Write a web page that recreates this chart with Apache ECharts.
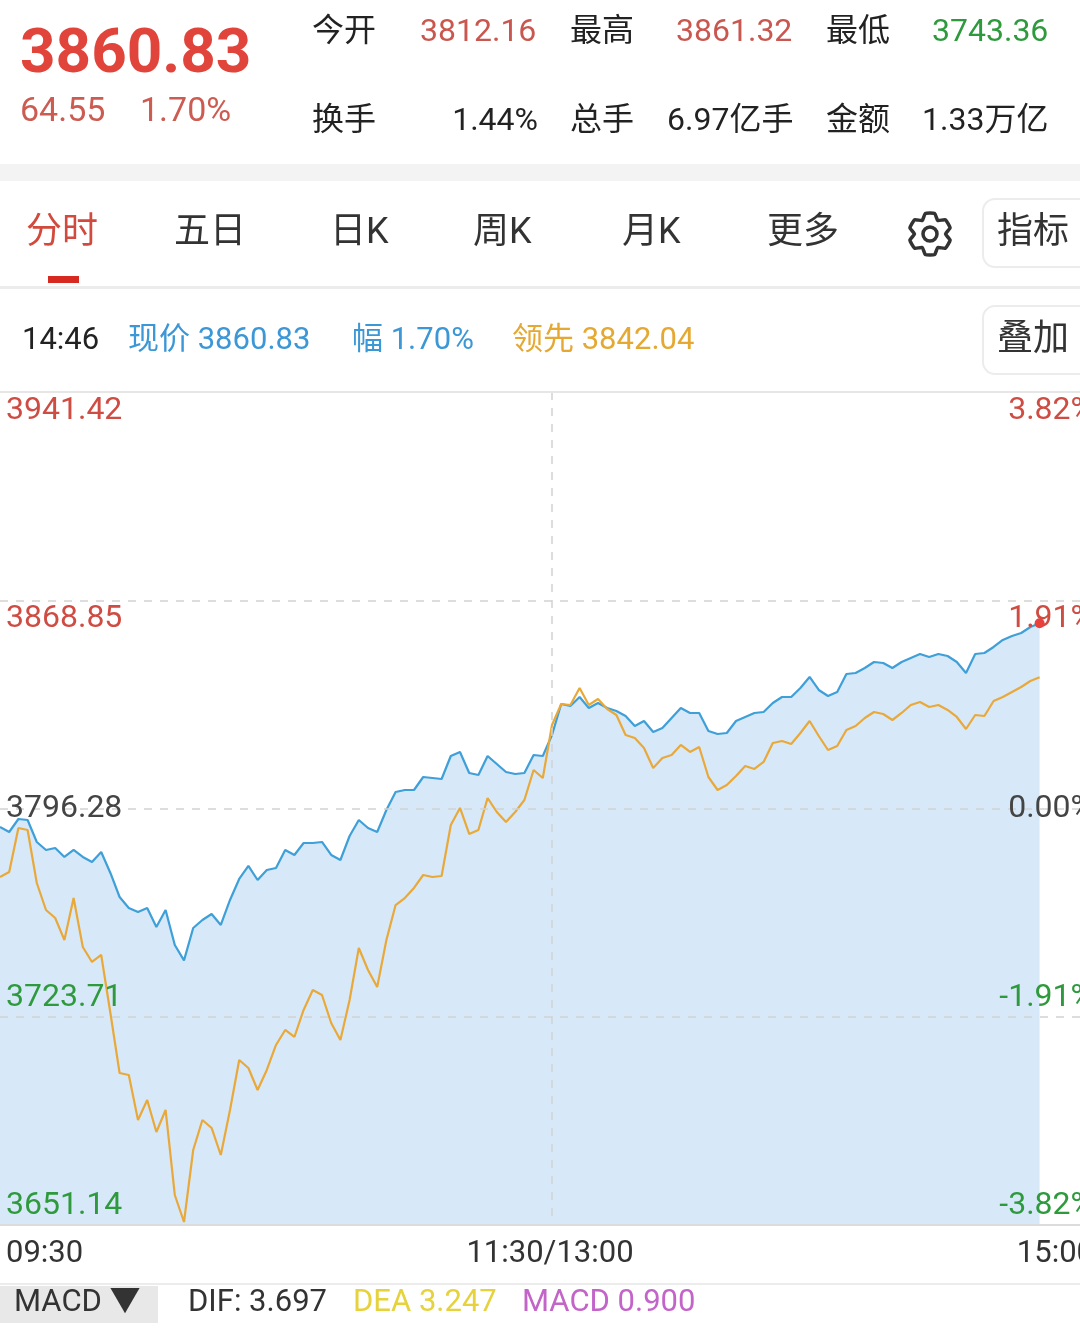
<!DOCTYPE html>
<html>
<head>
<meta charset="utf-8">
<script src="https://cdn.jsdelivr.net/npm/echarts@6/dist/echarts.min.js"></script>
<style>
  html, body { margin: 0; padding: 0; background: #fff; }
  #chart { width: 1080px; height: 1329px; }
</style>
</head>
<body>
<div id="chart"></div>
<script>
// 昨收 and the step between price grid lines
const prevClose = 3796.28
const gridStep = 72.57
const stepMinutes = 2

const timeLabels = ['09:30', '11:30/13:00', '15:00']

// 现价 (blue), one point every 2 minutes from 09:30
const price = [
  3789.84, 3788.09, 3792.62, 3792.28, 3784.61, 3781.82, 3782.52, 3779.38, 3781.82, 3779.38,
  3777.64, 3781.12, 3773.81, 3765.44, 3761.61, 3760.22, 3761.61, 3754.99, 3760.91, 3748.72,
  3743.36, 3754.64, 3757.43, 3759.52, 3755.69, 3764.40, 3771.72, 3776.25, 3771.37, 3774.85,
  3775.55, 3781.82, 3780.08, 3784.26, 3784.26, 3784.61, 3780.08, 3778.34, 3786.70, 3792.28,
  3789.49, 3788.09, 3795.76, 3802.03, 3802.73, 3802.73, 3807.26, 3806.91, 3806.56, 3814.58,
  3815.97, 3808.65, 3807.96, 3814.58, 3811.79, 3809.00, 3808.30, 3808.65, 3814.93, 3814.58,
  3821.89, 3832.70, 3832.00, 3835.14, 3831.30, 3833.05, 3831.30, 3830.26, 3828.52, 3825.03,
  3826.77, 3822.94, 3824.33, 3827.82, 3831.30, 3829.56, 3829.56, 3823.29, 3822.24, 3822.59,
  3826.77, 3828.17, 3829.56, 3829.91, 3833.05, 3835.14, 3835.14, 3838.27, 3842.11, 3837.58,
  3835.49, 3836.88, 3843.15, 3843.50, 3845.24, 3847.33, 3846.98, 3845.24, 3847.33, 3848.73,
  3850.12, 3849.08, 3850.12, 3849.42, 3847.33, 3843.50, 3850.12, 3850.47, 3852.56, 3855.00,
  3856.39, 3857.44, 3859.53, 3860.83,
]

// 领先 (orange)
const leading = [
  3772.41, 3774.15, 3789.49, 3788.79, 3770.32, 3760.91, 3758.12, 3750.46, 3765.09, 3748.02,
  3742.79, 3745.23, 3725.02, 3704.11, 3703.42, 3687.73, 3694.70, 3683.55, 3691.22, 3661.60,
  3652.19, 3677.28, 3687.73, 3684.95, 3675.54, 3691.22, 3708.64, 3705.85, 3698.19, 3705.16,
  3713.87, 3719.10, 3716.66, 3726.07, 3733.03, 3731.29, 3721.54, 3715.61, 3729.55, 3747.67,
  3740.00, 3734.08, 3750.46, 3762.65, 3765.09, 3768.58, 3773.11, 3772.41, 3772.76, 3790.53,
  3796.46, 3787.40, 3788.79, 3799.94, 3795.06, 3791.58, 3795.06, 3799.24, 3809.70, 3806.91,
  3825.38, 3832.70, 3832.35, 3838.27, 3832.35, 3834.44, 3830.96, 3828.86, 3821.89, 3820.85,
  3817.36, 3810.40, 3813.88, 3814.93, 3818.41, 3815.97, 3817.71, 3807.26, 3802.73, 3804.47,
  3807.61, 3811.09, 3810.05, 3812.49, 3819.11, 3819.80, 3818.76, 3822.59, 3826.77, 3821.55,
  3816.67, 3818.06, 3823.64, 3825.03, 3827.82, 3829.91, 3829.21, 3827.12, 3829.56, 3832.35,
  3833.39, 3831.65, 3832.35, 3830.61, 3828.17, 3823.99, 3828.86, 3828.52, 3833.74, 3835.14,
  3836.88, 3838.62, 3840.71, 3842.04,
]

const FONT = 'Roboto, "Noto Sans CJK SC", sans-serif'
const RED = '#cf4c43'
const GREEN = '#2e9a3d'

// y axis runs in grid steps around 昨收
function toSteps(v) {
  return (v - prevClose) / gridStep
}

function toSeries(arr) {
  return arr.map((v, i) => [i * stepMinutes, toSteps(v)])
}

function stepColor(v) {
  if (v > 0.001) return RED
  if (v < -0.001) return GREEN
  return '#444'
}

function stepText(v, text) {
  if (v > 0.001) return '\n' + text
  if (v < -0.001) return text + '\n'
  return text
}

function txt(text, x, y, color, size, extra) {
  return Object.assign({
    type: 'text',
    x: x,
    y: y,
    z: 10,
    style: {
      text: text,
      fill: color,
      font: size + 'px ' + FONT,
      verticalAlign: 'middle',
    },
  }, extra || {})
}

function box(x, y, w, h, fill, extra) {
  return Object.assign({
    type: 'rect',
    z: 9,
    shape: { x: x, y: y, width: w, height: h },
    style: { fill: fill },
  }, extra || {})
}

function gearPoints(cx, cy) {
  const pts = []
  const d = Math.PI / 180
  for (let k = 0; k < 6; k++) {
    const base = (k * 60 - 90) * d
    pts.push([cx + 15.5 * Math.cos(base - 30 * d), cy + 15.5 * Math.sin(base - 30 * d)])
    pts.push([cx + 21 * Math.cos(base - 13 * d), cy + 21 * Math.sin(base - 13 * d)])
    pts.push([cx + 21 * Math.cos(base + 13 * d), cy + 21 * Math.sin(base + 13 * d)])
  }
  return pts
}

const lastIdx = price.length - 1

const graphic = [
  // quote header
  txt('3860.83', 20, 56, '#e0443a', 62, { style: { text: '3860.83', fill: '#e0443a', font: 'bold 62px ' + FONT, verticalAlign: 'middle' } }),
  txt('64.55', 20, 112, '#cc5b52', 34),
  txt('1.70%', 140, 112, '#cc5b52', 34),
  txt('今开', 312, 33, '#222', 32),
  txt('3812.16', 420, 33, '#c9574f', 32),
  txt('最高', 570, 33, '#222', 32),
  txt('3861.32', 676, 33, '#c9574f', 32),
  txt('最低', 826, 33, '#222', 32),
  txt('3743.36', 932, 33, GREEN, 32),
  txt('换手', 312, 122, '#222', 32),
  txt('1.44%', 538, 122, '#222', 32, { style: { text: '1.44%', fill: '#222', font: '32px ' + FONT, verticalAlign: 'middle', align: 'right' } }),
  txt('总手', 570, 122, '#222', 32),
  txt('6.97亿手', 667, 122, '#222', 32),
  txt('金额', 826, 122, '#222', 32),
  txt('1.33万亿', 922, 122, '#222', 32),
  box(0, 164, 1080, 17, '#f3f3f3'),

  // tabs
  txt('分时', 26, 234, '#d2493d', 36),
  txt('五日', 174, 234, '#333', 36),
  txt('日K', 330, 234, '#333', 36),
  txt('周K', 473, 234, '#333', 36),
  txt('月K', 622, 234, '#333', 36),
  txt('更多', 767, 234, '#333', 36),
  {
    type: 'polygon', z: 10,
    shape: { points: gearPoints(930, 234), smooth: 0.15 },
    style: { fill: 'none', stroke: '#333', lineWidth: 3.5, lineJoin: 'round' },
  },
  { type: 'circle', z: 10, shape: { cx: 930, cy: 234, r: 7 }, style: { fill: 'none', stroke: '#333', lineWidth: 3.5 } },
  box(983, 199, 110, 68, '#fff', { shape: { x: 983, y: 199, width: 110, height: 68, r: 12 }, style: { fill: '#fff', stroke: '#ececec', lineWidth: 2 } }),
  txt('指标', 997, 234, '#333', 36),
  box(48, 276, 31, 7, '#d7291f'),
  box(0, 286, 1080, 3, '#ececec'),

  // cursor info row
  txt('14:46', 22, 341, '#222', 31),
  txt('现价 3860.83', 128, 341, '#3b97d5', 31),
  txt('幅 1.70%', 352, 341, '#3b97d5', 31),
  txt('领先 3842.04', 512, 341, '#e5a832', 31),
  box(983, 306, 110, 68, '#fff', { shape: { x: 983, y: 306, width: 110, height: 68, r: 12 }, style: { fill: '#fff', stroke: '#ececec', lineWidth: 2 } }),
  txt('叠加', 997, 341, '#333', 36),
  box(0, 391, 1080, 2, '#e6e6e6'),

  // MACD header
  box(0, 1283, 1080, 2, '#ececec'),
  box(0, 1286, 158, 37, '#e8e8e8'),
  txt('MACD ▼', 14, 1303, '#333', 31),
  txt('DIF: 3.697', 188, 1303, '#333', 31),
  txt('DEA 3.247', 353, 1303, '#e6d23c', 31),
  txt('MACD 0.900', 522, 1303, '#c364c9', 31),
]

const chart = echarts.init(document.getElementById('chart'), null, { renderer: 'canvas' })

chart.setOption({
  animation: false,
  backgroundColor: '#fff',
  grid: { left: 0, top: 392, right: -24, bottom: 104, outerBoundsMode: 'none', containLabel: false },
  xAxis: {
    type: 'value',
    min: 0,
    max: 240,
    interval: 120,
    z: 3,
    axisLine: { show: true, onZero: false, lineStyle: { color: '#dcdcdc', width: 2 } },
    axisTick: { show: false },
    splitLine: {
      show: true,
      showMinLine: false,
      showMaxLine: false,
      lineStyle: { color: '#d2d2d2', type: [8, 8], width: 1.5 },
    },
    axisLabel: {
      fontSize: 31,
      fontFamily: FONT,
      color: '#333',
      margin: 14,
      alignMinLabel: 'left',
      alignMaxLabel: 'right',
      padding: [0, 10, 0, 6],
      formatter: (v) => timeLabels[Math.round(v / 120)],
    },
  },
  yAxis: [
    {
      type: 'value',
      min: -2,
      max: 2,
      interval: 1,
      z: 3,
      axisLine: { show: false },
      axisTick: { show: false },
      splitLine: {
        show: true,
        showMinLine: false,
        showMaxLine: false,
        lineStyle: { color: '#d2d2d2', type: [8, 8], width: 1.5 },
      },
      axisLabel: {
        inside: true,
        margin: 6,
        fontSize: 32,
        fontFamily: FONT,
        lineHeight: 38,
        color: (v) => stepColor(Number(v)),
        formatter: (v) => stepText(v, (prevClose + v * gridStep).toFixed(2)),
      },
    },
    {
      type: 'value',
      position: 'right',
      min: -2,
      max: 2,
      interval: 1,
      z: 3,
      axisLine: { show: false },
      axisTick: { show: false },
      splitLine: { show: false },
      axisLabel: {
        inside: true,
        margin: 10,
        fontSize: 32,
        fontFamily: FONT,
        lineHeight: 38,
        color: (v) => stepColor(Number(v)),
        formatter: (v) => stepText(v, (v * gridStep / prevClose * 100).toFixed(2) + '%'),
      },
    },
  ],
  series: [
    {
      name: '现价',
      type: 'line',
      data: toSeries(price),
      showSymbol: false,
      symbol: 'none',
      lineStyle: { color: '#3f9fd8', width: 2.2 },
      areaStyle: { color: '#d7e9f8', opacity: 1, origin: 'start' },
      markPoint: {
        symbol: 'circle',
        symbolSize: 10,
        itemStyle: { color: '#e8403a' },
        label: { show: false },
        data: [{ coord: [lastIdx * stepMinutes, toSteps(price[lastIdx])] }],
      },
      z: 2,
    },
    {
      name: '领先',
      type: 'line',
      data: toSeries(leading),
      showSymbol: false,
      symbol: 'none',
      lineStyle: { color: '#e9a93a', width: 2.2 },
      z: 2,
    },
  ],
  graphic: graphic,
})
</script>
</body>
</html>
